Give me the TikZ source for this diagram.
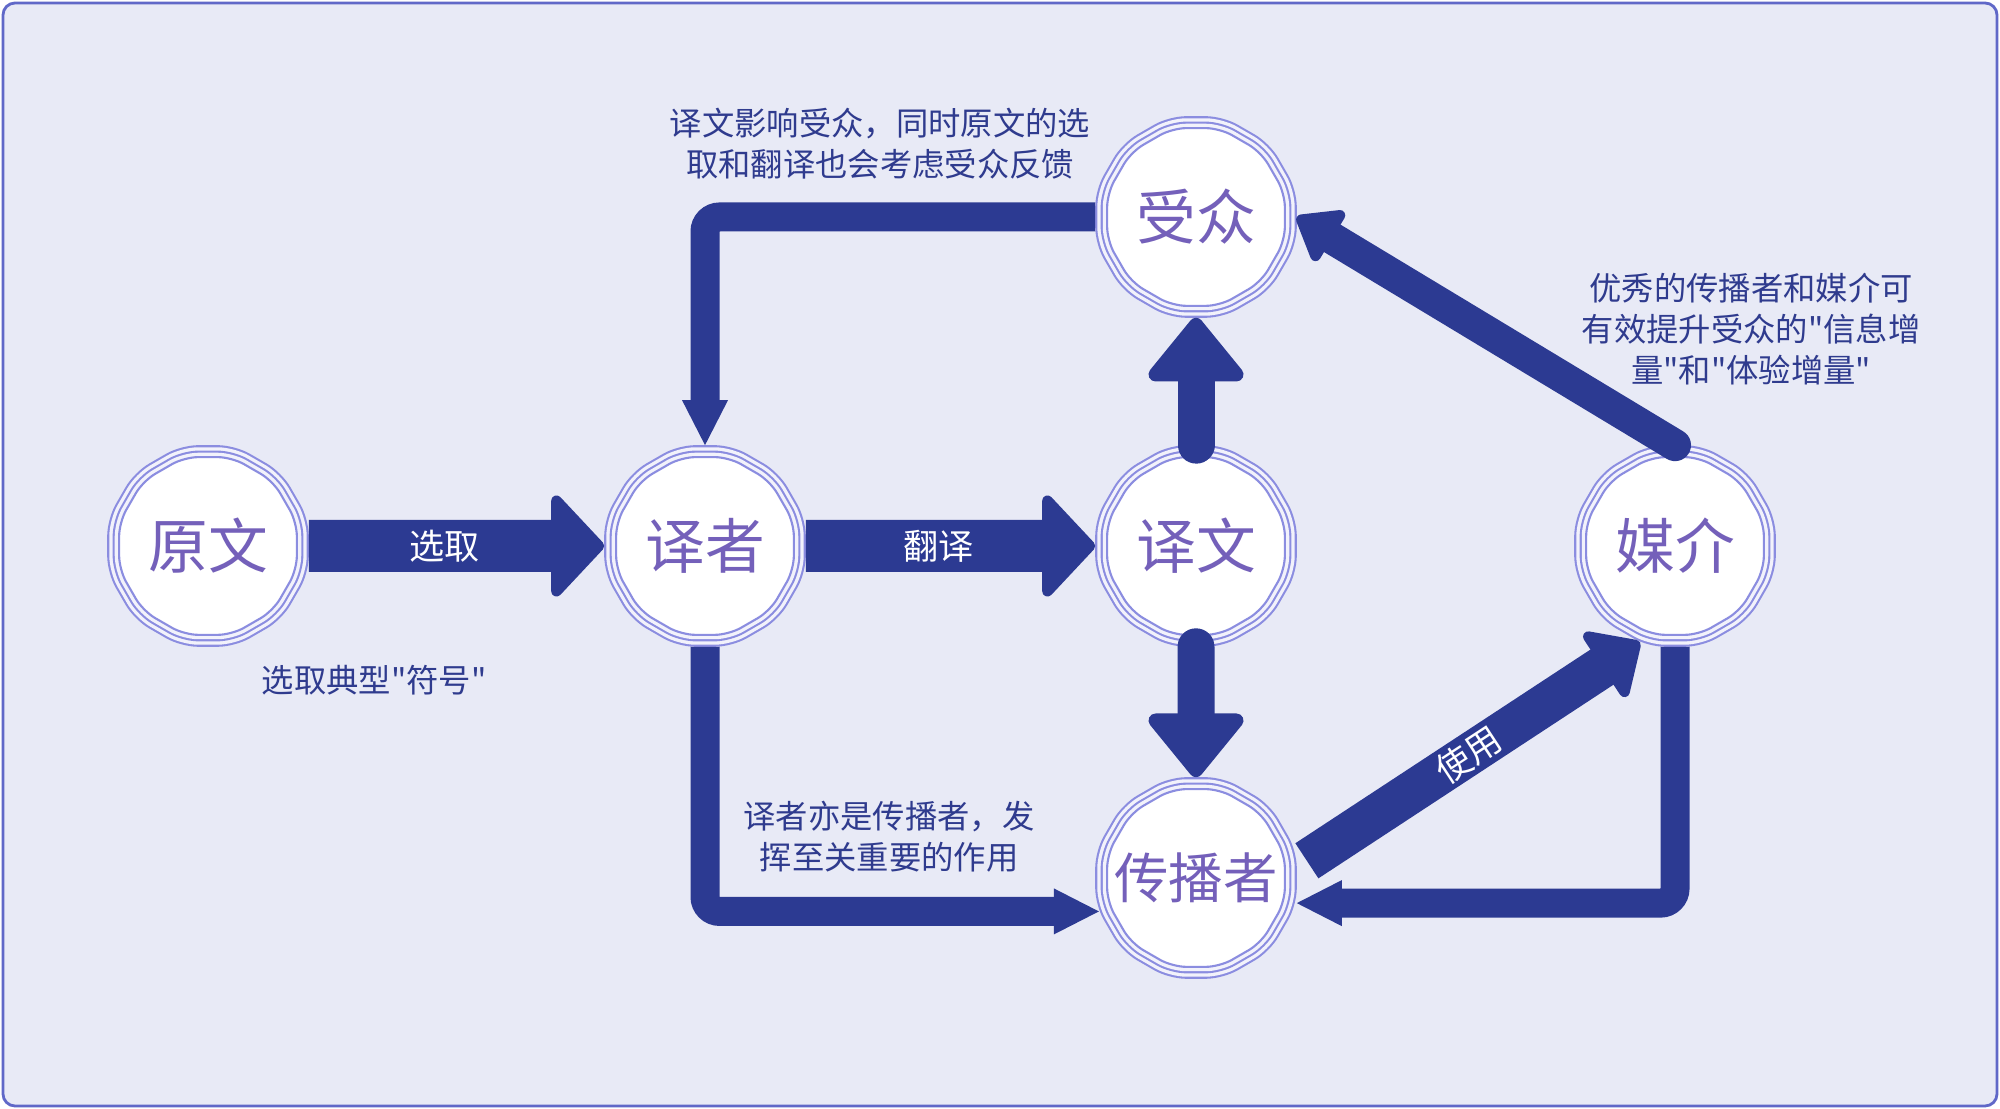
\documentclass[tikz,border=0pt]{standalone}
\usepackage{fontspec}
\setmainfont{Noto Sans CJK SC}[Ligatures=TeXOff]
\usepackage{tikz}
\usetikzlibrary{calc}
\usetikzlibrary{shapes.geometric,arrows.meta}
\definecolor{bgcol}{HTML}{E8EAF6}
\definecolor{framecol}{HTML}{6068C8}
\definecolor{arrowcol}{HTML}{2C3A92}
\definecolor{ringcol}{HTML}{8B8DE0}
\definecolor{gapcol}{HTML}{F2F2FB}
\definecolor{nodetext}{HTML}{7460BA}
\definecolor{notecol}{HTML}{2F3B8E}

\begin{document}
\begin{tikzpicture}[
        ring/.style={regular polygon, regular polygon sides=12, rounded corners=4pt,
            minimum size=1.84cm, inner sep=0pt, outer sep=3.4pt,
            fill=white, draw=ringcol, line width=0.6pt,
            text=nodetext, font=\fontsize{17}{20}\selectfont,
            preaction={draw=ringcol, line width=6.8pt},
            preaction={draw=gapcol, line width=5.6pt},
            preaction={draw=ringcol, line width=3.7pt},
            preaction={draw=gapcol, line width=2.5pt}},
        fatarrow/.style={draw=arrowcol, line width=0.52cm,
            -{Triangle[length=0.55cm, width=1.15cm, round, line width=3pt]}},
        stubarrow/.style={draw=arrowcol, line width=0.37cm, line cap=round,
            -{Triangle[length=0.68cm, width=1.07cm, round, line width=4pt]}},
        elbowarrow/.style={draw=arrowcol, line width=0.29cm, rounded corners=0.145cm,
            -{Triangle[length=0.45cm, width=0.46cm, line width=0pt]}},
        diagarrow/.style={draw=arrowcol, line width=0.32cm, line cap=round,
            -{Triangle[length=0.45cm, width=0.66cm, round, line width=3pt]}},
        usearrow/.style={draw=arrowcol, line width=0.42cm,
            -{Triangle[length=0.48cm, width=0.88cm, round, line width=3pt]}},
        lab/.style={text=white, font=\fontsize{10}{12}\selectfont},
        note/.style={text=notecol, font=\fontsize{9.2}{11.6}\selectfont, align=center}
    ]
        \fill[white] (0,0) rectangle (20,11.09);
        \draw[framecol, fill=bgcol, line width=0.8pt, rounded corners=0.12cm] (0.03,0.03) rectangle (19.97,11.06);

        \node[ring] (yw) at (2.08,5.63) {原文};
        \node[ring] (yz) at (7.05,5.63) {译者};
        \node[ring] (yt) at (11.96,5.63) {译文};
        \node[ring] (mj) at (16.75,5.63) {媒介};
        \node[ring] (sz) at (11.96,8.92) {受众};
        \node[ring, inner sep=-6pt, font=\fontsize{15.5}{18}\selectfont] (cb) at (11.96,2.31) {传播者};

        \draw[fatarrow] (yw.east) -- node[lab, pos=0.46] {选取} (yz.west);
        \draw[fatarrow] (yz.east) -- node[lab, pos=0.46] {翻译} (yt.west);
        \draw[stubarrow] (yt.north) -- (sz.south);
        \draw[stubarrow] (yt.south) -- (cb.north);
        \draw[elbowarrow] (sz.west) -| (yz.north);
        \draw[elbowarrow] (yz.south) |- (cb.199);
        \draw[elbowarrow] (mj.south) |- (cb.346);
        \draw[diagarrow] (mj.north) -- (sz.east);
        \draw[usearrow, shorten <=0.12cm] (cb.6) -- node[lab, sloped] {使用} (mj.250);

        \node[note] (n1) at (8.80,9.65) {译文影响受众，同时原文的选\\取和翻译也会考虑受众反馈};
        \node[note] (n2) at (17.51,7.80) {优秀的传播者和媒介可\\有效提升受众的"信息增\\量"和"体验增量"};
        \node[note] (n3) at (3.74,4.29) {选取典型"符号"};
        \node[note] (n4) at (8.89,2.72) {译者亦是传播者，发\\挥至关重要的作用};
\end{tikzpicture}
\end{document}
